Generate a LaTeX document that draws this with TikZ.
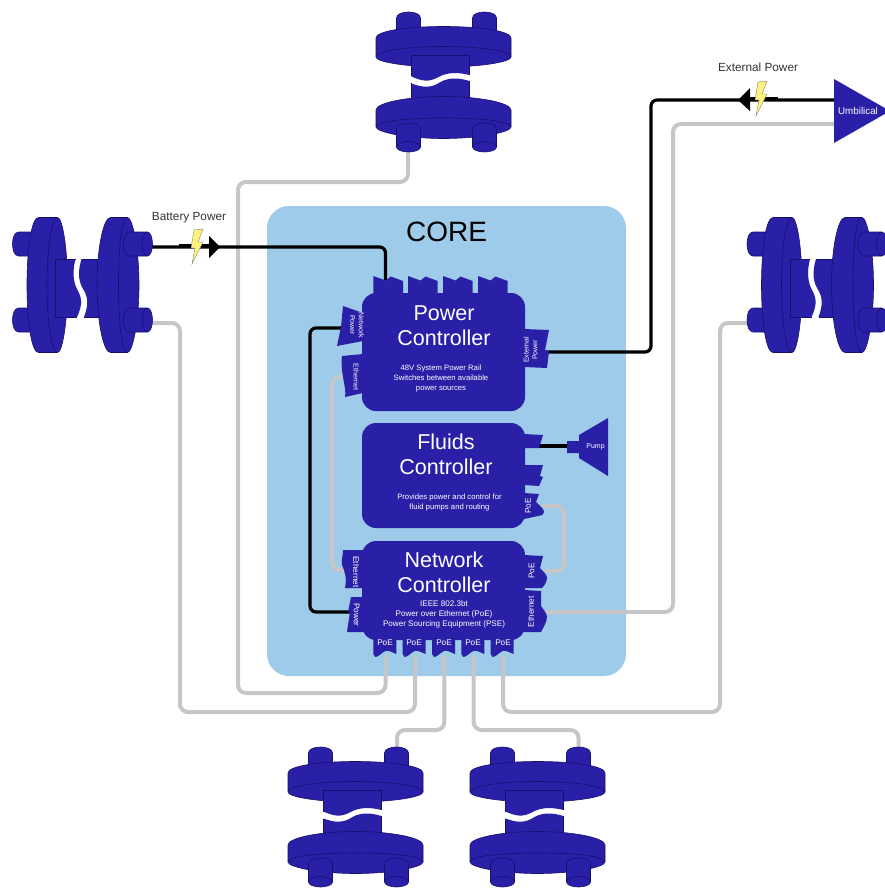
\documentclass[tikz,border=0pt]{standalone}
\usepackage{fontspec}
\setmainfont{Liberation Sans}
\usepackage{tikz}
\usetikzlibrary{positioning,calc}
\definecolor{indigo}{HTML}{2A20A8}
\definecolor{indigoline}{HTML}{17106E}
\definecolor{coreblue}{HTML}{9DCBE9}
\definecolor{cablegray}{HTML}{C6C6C6}
\definecolor{boltyellow}{HTML}{FFF27A}
\tikzset{
  flangefill/.style={fill=indigo,draw=indigoline,line width=0.6pt},
  flange/.pic={
    \path[flangefill] (-47,-50) -- (-47,-64) .. controls (-47,-68) and (-41,-70) .. (-35,-70) .. controls (-29,-70) and (-23,-68) .. (-23,-64) -- (-23,-50) -- cycle;
    \path[flangefill] (29,-50) -- (29,-64) .. controls (29,-68) and (35,-70) .. (41,-70) .. controls (47,-70) and (53,-68) .. (53,-64) -- (53,-50) -- cycle;
    \path[flangefill] (-67.5,-44) .. controls (-67.5,-51) and (-37,-55.5) .. (0,-55.5) .. controls (37,-55.5) and (67.5,-51) .. (67.5,-44) -- (67.5,-25) .. controls (67.5,-20) and (37,-15) .. (0,-15) .. controls (-37,-15) and (-67.5,-20) .. (-67.5,-25) -- cycle;
    \draw[indigoline,line width=0.6pt] (-67.5,-25) .. controls (-67.5,-31) and (-37,-35.5) .. (0,-35.5) .. controls (37,-35.5) and (67.5,-31) .. (67.5,-25);
    \fill[indigo] (-32,-27) -- (26,-27) -- (26,-7) .. controls (16,-9.5) and (6,-10) .. (-3,-6) .. controls (-12,-1) and (-18,1) .. (-32,-5.5) -- cycle;
    \draw[indigoline,line width=0.6pt] (-32,-5.5) -- (-32,-27) -- (26,-27) -- (26,-7);
    \fill[indigo] (-32,1.5) .. controls (-20,6) and (-12,6) .. (-3,0) .. controls (6,-5) and (16,-4) .. (26,-1) -- (26,20) -- (-32,20) -- cycle;
    \draw[indigoline,line width=0.6pt] (-32,1.5) -- (-32,20);
    \draw[indigoline,line width=0.6pt] (26,-1) -- (26,20);
    \path[flangefill] (-67.5,28) .. controls (-67.5,21) and (-37,14.5) .. (0,14.5) .. controls (37,14.5) and (67.5,21) .. (67.5,28) -- (67.5,45) .. controls (67.5,50) and (37,56.5) .. (0,56.5) .. controls (-37,56.5) and (-67.5,50) .. (-67.5,45) -- cycle;
    \draw[indigoline,line width=0.6pt] (-67.5,45) .. controls (-67.5,39) and (-37,36) .. (0,36) .. controls (37,36) and (67.5,39) .. (67.5,45);
    \path[flangefill] (-47,47) .. controls (-47,43) and (-41,41) .. (-35,41) .. controls (-29,41) and (-23,43) .. (-23,47) -- (-23,65) .. controls (-23,68) and (-29,70) .. (-35,70) .. controls (-41,70) and (-47,68) .. (-47,65) -- cycle;
    \draw[indigoline,line width=0.6pt] (-47,65) .. controls (-47,62) and (-41,59.5) .. (-35,59.5) .. controls (-29,59.5) and (-23,62) .. (-23,65);
    \path[flangefill] (29,47) .. controls (29,43) and (35,41) .. (41,41) .. controls (47,41) and (53,43) .. (53,47) -- (53,65) .. controls (53,68) and (47,70) .. (41,70) .. controls (35,70) and (29,68) .. (29,65) -- cycle;
    \draw[indigoline,line width=0.6pt] (29,65) .. controls (29,62) and (35,59.5) .. (41,59.5) .. controls (47,59.5) and (53,62) .. (53,65);
  },
  bolt/.pic={
    \path[fill=boltyellow,draw=gray,line width=0.4pt] (3,-18) -- (12,-19) -- (7,-6) -- (12,-6) -- (1,16) -- (4,0) -- (0,0) -- cycle;
  },
  toptab/.pic={
    \fill[indigo] (0,1) -- (0,-17) -- (12.5,-12.5) -- (17.5,-16.5) -- (29.7,-12) -- (29.7,1) -- cycle;
  },
  poetab/.pic={
    \fill[indigo] (0,-1) -- (23,-1) -- (23,14) .. controls (18,12) and (15,10) .. (12,11) .. controls (8,13) and (5,17) .. (2,17) -- (0,14) -- cycle;
  }
}
\begin{document}
\begin{tikzpicture}[x=1pt,y=-1pt]
\tikzstyle{cable}=[cablegray,line width=4pt,rounded corners=8pt]
\tikzstyle{fil}=[black,line width=3.2pt,rounded corners=6pt]
\tikzstyle{bloc}=[fill=indigo,inner sep=0pt,rounded corners=14pt]
\tikzstyle{tab}=[fill=indigo]
\tikzstyle{texte}=[text=white,inner sep=0pt,align=center]
\tikzstyle{titre}=[texte,font=\fontsize{21.5}{25.5}\selectfont]
\tikzstyle{detail}=[texte,font=\fontsize{7.7}{9.8}\selectfont]
\tikzstyle{port}=[texte,font=\fontsize{8.2}{9}\selectfont]
\tikzstyle{petit}=[texte,font=\fontsize{7}{8.6}\selectfont]
\tikzstyle{legende}=[inner sep=0pt,text=black!80,font=\fontsize{11.8}{14}\selectfont]
\useasboundingbox (0,0) rectangle (884,888);
\node[fill=coreblue,inner sep=0pt,rounded corners=22pt,minimum width=359pt,minimum height=470pt] (Core) at (446.5,441) {};
\node[inner sep=0pt,font=\fontsize{28}{32}\selectfont] (CoreT) at (446.5,232) {CORE};
\node[legende] (Lb) at (189,218) {Battery Power};
\node[legende] (Le) at (758,67) {External Power};
\coordinate (Ft) at (408,150);
\coordinate (Fl) at (150,323);
\coordinate (Flb) at (150,247);
\coordinate (Fr) at (750,323);
\coordinate (Fa) at (397,750);
\coordinate (Fb) at (578.5,750);
\coordinate (Um) at (836,124);
\coordinate (Umb) at (836,100);
\coordinate (Pb) at (385.5,280);
\coordinate (Pn) at (345,328);
\coordinate (Pe) at (346,377);
\coordinate (Px) at (546,352);
\coordinate (Fp) at (537,446);
\coordinate (Pu) at (570,446);
\coordinate (Fq) at (542,506);
\coordinate (Nq) at (545,571);
\coordinate (Ne) at (345,570);
\coordinate (Nw) at (352,612);
\coordinate (Nt) at (545,612);
\coordinate (Na) at (385.5,655);
\coordinate (Nb) at (415,655);
\coordinate (Nc) at (444.3,655);
\coordinate (Nd) at (473.7,655);
\coordinate (Nf) at (503,655);
\coordinate (Ca) at (238,182);
\coordinate (Cb) at (385.5,693);
\coordinate (Cc) at (180,712);
\coordinate (Cd) at (415,712);
\coordinate (Ce) at (397,730);
\coordinate (Cf) at (578.5,730);
\coordinate (Cg) at (720,712);
\coordinate (Ch) at (673,612);
\coordinate (Ci) at (564,571);
\coordinate (Cj) at (332,377);
\coordinate (Ck) at (310,328);
\coordinate (Cl) at (651,352);
\draw[cable] (Ft) |- (Ca) |- (Cb) -- (Na);
\draw[cable] (Fl) -| (Cc) |- (Cd) -- (Nb);
\draw[cable] (Nc) |- (Ce) -- (Fa);
\draw[cable] (Nd) |- (Cf) -- (Fb);
\draw[cable] (Nf) |- (Cg) |- (Fr);
\draw[cable] (Nt) -- (Ch) |- (Um);
\draw[cable] (Fq) -| (Ci) -- (Nq);
\draw[cable] (Pe) -- (Cj) |- (Ne);
\draw[fil] (Flb) -| (Pb);
\draw[fil] (Px) -- (Cl) |- (Umb);
\draw[fil] (Pn) -- (Ck) |- (Nw);
\draw[fil] (Fp) -- (Pu);
\fill[black] (209,236) -- (220,247) -- (209,258) -- cycle;
\draw[black,line width=1.5pt] (179,245) -- (209,245);
\fill[black] (750,88) -- (738,100) -- (750,111) -- cycle;
\draw[black,line width=1.5pt] (750,98) -- (778,98);
\pic at (191,248) {bolt};
\pic at (755,100) {bolt};
\pic (FlT) at (443.5,82) {flange};
\pic (FlG) at (82.5,285) [rotate=90] {flange};
\pic (FlD) at (817,285) [rotate=90] {flange};
\pic (FlA) at (355.5,817) {flange};
\pic (FlB) at (537.5,817) {flange};
\fill[tab] (834,79) -- (890,111) -- (834,143) -- cycle;
\node[texte,font=\fontsize{9.8}{12}\selectfont] (Umt) at (858,111) {Umbilical};
\fill[tab] (567,441) -- (579,441) -- (579,435) -- (608,418) -- (608,476) -- (579,458) -- (579,453) -- (567,453) -- cycle;
\node[petit] (Put) at (595.5,446.5) {Pump};
\pic at (373.3,293) {toptab};
\pic at (408,293) {toptab};
\pic at (443,293) {toptab};
\pic at (478,293) {toptab};
\fill[tab] (343,306) -- (363,313) -- (363,341) -- (337,346) -- (341,327) -- cycle;
\fill[tab] (342,356) -- (363,354) -- (363,393) -- (345,397) .. controls (347,388) and (340,374) .. (342,356) -- cycle;
\fill[tab] (524,329) -- (549,330) -- (545,350) -- (549,351) -- (547,368) -- (524,367) -- cycle;
\fill[tab] (524,434) -- (543,435) -- (539,448) -- (524,448) -- cycle;
\fill[tab] (524,465) -- (543,465) -- (540,476) -- (543,477) -- (539,486) -- (524,485) -- cycle;
\fill[tab] (524,493) -- (539,494) -- (536,502) .. controls (540,506) and (544,509) .. (544,512) .. controls (544,515) and (542,515) .. (538,516) -- (524,519) -- cycle;
\fill[tab] (343,550) -- (363,550) -- (363,588) -- (345,588) .. controls (347,578) and (345,572) .. (342,565) .. controls (341,561) and (343,556) .. (343,550) -- cycle;
\fill[tab] (351,597) -- (363,597) -- (363,632) -- (347,632) -- (350,612) -- (348,612) -- cycle;
\fill[tab] (524,555) -- (543,556) -- (540,568) .. controls (544,572) and (547,575) .. (547,578) .. controls (547,582) and (544,586) .. (542,588) -- (524,588) -- cycle;
\fill[tab] (524,590) -- (541,591) -- (541,606) .. controls (544,610) and (547,614) .. (547,617) .. controls (547,622) and (543,628) .. (541,632) -- (524,632) -- cycle;
\pic at (373.3,640) {poetab};
\pic at (402.6,640) {poetab};
\pic at (432,640) {poetab};
\pic at (461.3,640) {poetab};
\pic at (490.6,640) {poetab};
\node[bloc,minimum width=163pt,minimum height=118pt] (Pc) at (443.5,352) {};
\node[bloc,minimum width=163pt,minimum height=105pt] (Fc) at (443.5,475.5) {};
\node[bloc,minimum width=163pt,minimum height=99pt] (Nc) at (443.5,590.5) {};
\node[titre] (Pct) at (444,325.5) {Power\\Controller};
\node[detail] (Pcs) at (441,378.5) {48V System Power Rail\\Switches between available\\power sources};
\node[titre] (Fct) at (446,454.5) {Fluids\\Controller};
\node[detail] (Fcs) at (449.5,502.5) {Provides power and control for\\fluid pumps and routing};
\node[titre] (Nct) at (444,572.5) {Network\\Controller};
\node[detail,font=\fontsize{8.1}{9.9}\selectfont] (Ncs) at (444,614.7) {IEEE 802.3bt\\Power over Ethernet (PoE)\\Power Sourcing Equipment (PSE)};
\node[petit,rotate=-90] (Pnt) at (357,325) {Network\\Power};
\node[petit,rotate=-90] (Pet) at (356,377) {Ethernet};
\node[petit,rotate=90] (Pxt) at (530.5,350) {External\\Power};
\node[port,rotate=90] (Fqt) at (528,506) {PoE};
\node[port,rotate=-90] (Net) at (356,572) {Ethernet};
\node[port,rotate=-90] (Nwt) at (356.7,615) {Power};
\node[port,rotate=90] (Nqt) at (531.7,571) {PoE};
\node[port,rotate=90] (Ntt) at (531,611.7) {Ethernet};
\node[port] (Nat) at (385,643) {PoE};
\node[port] (Nbt) at (414,643) {PoE};
\node[port] (Nct2) at (444,643) {PoE};
\node[port] (Ndt) at (473,643) {PoE};
\node[port] (Nft) at (503,643) {PoE};
\end{tikzpicture}
\end{document}
